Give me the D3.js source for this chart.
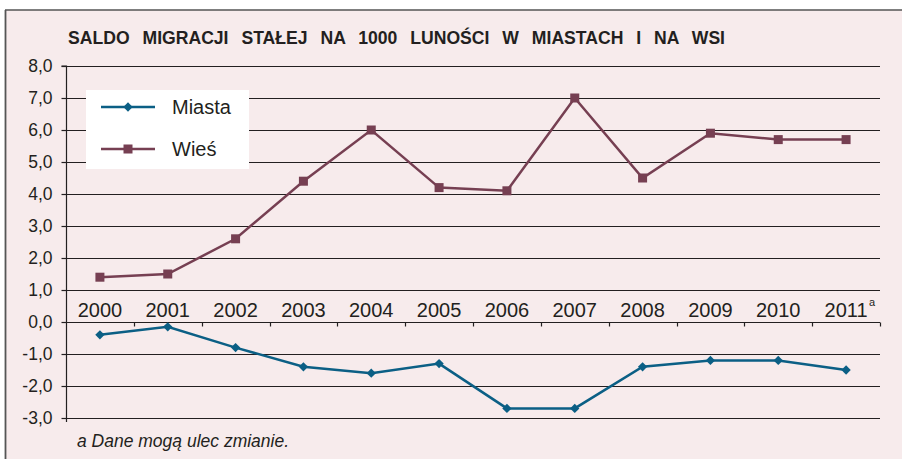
<!DOCTYPE html>
<html><head><meta charset="utf-8">
<script src="https://cdn.jsdelivr.net/npm/d3@7"></script>
<style>
html,body{margin:0;padding:0;background:#fff;}
svg{display:block;font-family:"Liberation Sans",Arial,sans-serif;}
</style></head><body>
<svg id="c" width="902" height="459"></svg>
<script>
const years = ["2000","2001","2002","2003","2004","2005","2006","2007","2008","2009","2010","2011"];
const miasta = [-0.4,-0.15,-0.8,-1.4,-1.6,-1.3,-2.7,-2.7,-1.4,-1.2,-1.2,-1.5];
const wies = [1.4,1.5,2.6,4.4,6.0,4.2,4.1,7.0,4.5,5.9,5.7,5.7];
const yTicks = [-3,-2,-1,0,1,2,3,4,5,6,7,8];
const seriesNames = ["Miasta","Wieś"];
const titleWords = ["SALDO","MIGRACJI","STAŁEJ","NA","1000 LUNOŚCI","W","MIASTACH","I","NA","WSI"];
const footnote = "a Dane mogą ulec zmianie.";

const svg = d3.select("#c");
const bg = "#f7ebec", gridC = "#231f20", cM = "#0b5f85", cW = "#763f52";

// panel
svg.append("rect").attr("x",5).attr("y",10).attr("width",902).attr("height",460).attr("fill",bg);
svg.append("line").attr("x1",5).attr("x2",902).attr("y1",10).attr("y2",10).attr("stroke","#555").attr("stroke-width",1.5);
svg.append("line").attr("x1",5.5).attr("x2",5.5).attr("y1",10).attr("y2",459).attr("stroke","#555").attr("stroke-width",1.8);

const L=66, R=880, T=66, B=418;
const x = d3.scaleBand().domain(years).range([L,R]);
const y = d3.scaleLinear().domain([-3,8]).range([B,T]);

// title
const title = svg.append("text").attr("x",68).attr("y",44).attr("font-size",17.6).attr("font-weight","bold")
  .attr("fill","#231f20").attr("xml:space","preserve")
  .text(titleWords.join(" "));
{
  const w = title.node().getComputedTextLength();
  const gaps = titleWords.join(" ").split(" ").length - 1;
  const ws = Math.max(0, (657 - w) / gaps);
  title.style("word-spacing", ws + "px");
}

// gridlines
svg.append("g").selectAll("line").data(yTicks.filter(d=>d!==0)).join("line")
  .attr("x1",L).attr("x2",R).attr("y1",d=>Math.round(y(d))+0.5).attr("y2",d=>Math.round(y(d))+0.5)
  .attr("stroke",gridC).attr("stroke-width",1.2);

// y axis
const ya = svg.append("g").attr("transform",`translate(${L+0.5},0)`)
  .call(d3.axisLeft(y).tickValues(yTicks).tickSize(5).tickPadding(9).tickFormat(d=>d3.format(".1f")(d).replace("−","-").replace(".",",")));
ya.select(".domain").attr("stroke",gridC).attr("stroke-width",1.2).attr("d",`M-5,${y(8)}H0V${y(-3)+4}`);
ya.selectAll(".tick line").attr("stroke",gridC).attr("stroke-width",1.2);
ya.selectAll(".tick text").attr("font-size",17.5).attr("fill","#231f20").attr("font-family","Liberation Sans, Arial, sans-serif");
ya.selectAll(".tick").attr("transform",d=>`translate(0,${Math.round(y(d))+0.5})`);

// x axis at 0
const y0 = Math.round(y(0))+0.5;
const xa = svg.append("g").attr("transform",`translate(0,${y0})`);
xa.append("line").attr("x1",L).attr("x2",R).attr("stroke",gridC).attr("stroke-width",1.2);
const bounds = years.map(d=>x(d)).concat([R]);
xa.selectAll("line.tk").data(bounds.slice(1)).join("line").attr("class","tk")
  .attr("x1",d=>Math.round(d)+0.5).attr("x2",d=>Math.round(d)+0.5).attr("y1",0).attr("y2",4)
  .attr("stroke",gridC).attr("stroke-width",1.2);
xa.selectAll("text").data(years).join("text")
  .attr("x",d=>x(d)+x.bandwidth()/2).attr("y",-6).attr("text-anchor","middle")
  .attr("font-size",20).attr("fill","#231f20").text(d=>d);
svg.append("text").attr("x",x("2011")+x.bandwidth()/2+23).attr("y",y0-17).attr("font-size",11).attr("fill","#231f20").text("a");

const cx = d=>x(d)+x.bandwidth()/2;
const line = d3.line().x((d,i)=>cx(years[i])).y(d=>y(d));

// Wieś
svg.append("path").datum(wies).attr("d",line).attr("fill","none").attr("stroke",cW).attr("stroke-width",2.5);
svg.append("g").selectAll("rect").data(wies).join("rect")
  .attr("x",(d,i)=>cx(years[i])-4.5).attr("y",d=>y(d)-4.5).attr("width",9).attr("height",9).attr("fill",cW);

// Miasta
svg.append("path").datum(miasta).attr("d",line).attr("fill","none").attr("stroke",cM).attr("stroke-width",2.5);
const diamond = d3.symbol().type(d3.symbolDiamond2).size(55);
svg.append("g").selectAll("path").data(miasta).join("path")
  .attr("transform",(d,i)=>`translate(${cx(years[i])},${y(d)})`).attr("d",diamond).attr("fill",cM);

// legend
const lg = svg.append("g");
lg.append("rect").attr("x",86).attr("y",90).attr("width",163).attr("height",79).attr("fill","#fff");
const ly = [107,149], lc=[cM,cW];
seriesNames.forEach((n,i)=>{
  lg.append("line").attr("x1",101).attr("x2",155).attr("y1",ly[i]).attr("y2",ly[i]).attr("stroke",lc[i]).attr("stroke-width",2.5);
  if(i===0) lg.append("path").attr("transform",`translate(128,${ly[i]})`).attr("d",diamond).attr("fill",lc[i]);
  else lg.append("rect").attr("x",123.5).attr("y",ly[i]-4.5).attr("width",9).attr("height",9).attr("fill",lc[i]);
  lg.append("text").attr("x",172).attr("y",ly[i]+7).attr("font-size",20).attr("fill","#231f20").text(n);
});

// footnote
svg.append("text").attr("x",77).attr("y",447).attr("font-size",17.5).attr("font-style","italic").attr("fill","#231f20").text(footnote);
</script>
</body></html>
